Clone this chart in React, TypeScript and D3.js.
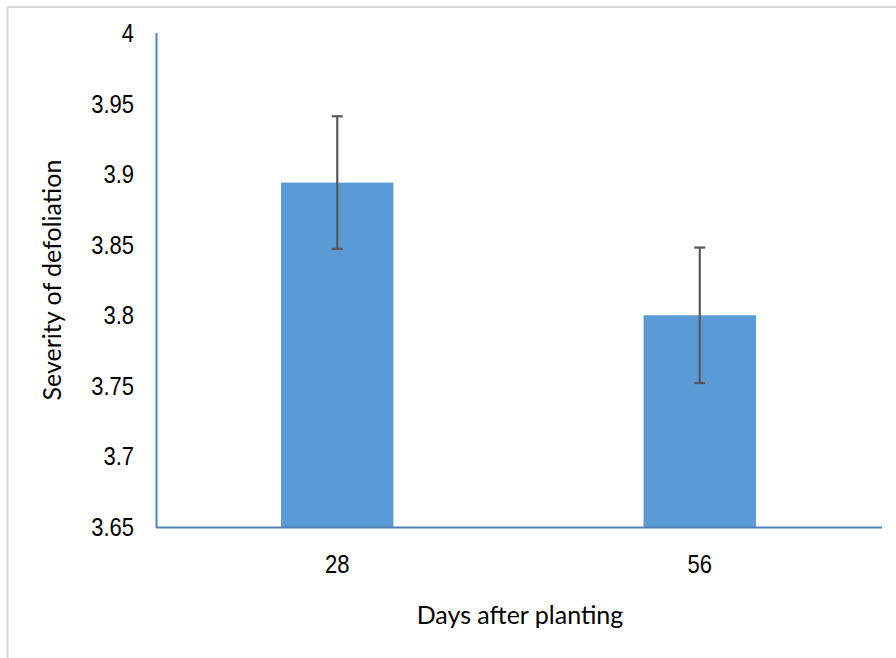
import React from "react";
import * as d3 from "d3";

const categories = ["28", "56"];
const means = [3.894, 3.8];
const errors = [0.047, 0.048];
const yTicks = [3.65, 3.7, 3.75, 3.8, 3.85, 3.9, 3.95, 4];

const W = 896;
const H = 658;
const margin = { left: 156, right: 15, top: 33, bottom: 131 };

export default function App() {
  const x = d3
    .scaleBand<string>()
    .domain(categories)
    .range([margin.left, W - margin.right])
    .paddingInner(0.69)
    .paddingOuter(0.345);
  const y = d3.scaleLinear().domain([3.65, 4]).range([H - margin.bottom, margin.top]);
  const tickFont = "'Liberation Sans', Arial, sans-serif";
  const titleFont = "Lato, 'Open Sans', sans-serif";
  const y0 = y(3.65);
  return (
    <svg
      width={W}
      height={H}
      style={{ position: "absolute", left: 0, top: 0, background: "#fff" }}
    >
      <line x1={7.5} y1={7} x2={W} y2={7} stroke="#d9d9d9" strokeWidth={2} />
      <line x1={7.5} y1={7} x2={7.5} y2={H} stroke="#d9d9d9" strokeWidth={2} />
      {categories.map((c, i) => (
        <rect
          key={c}
          x={x(c)}
          y={y(means[i])}
          width={x.bandwidth()}
          height={y0 - y(means[i])}
          fill="#5b9bd5"
        />
      ))}
      {categories.map((c, i) => {
        const cx = (x(c) as number) + x.bandwidth() / 2;
        const t = y(means[i] + errors[i]);
        const b = y(means[i] - errors[i]);
        return (
          <g key={"e" + c} stroke="#595959" strokeWidth={2.2}>
            <line x1={cx} x2={cx} y1={t} y2={b} />
            <line x1={cx - 5.5} x2={cx + 5.5} y1={t} y2={t} />
            <line x1={cx - 5.5} x2={cx + 5.5} y1={b} y2={b} />
          </g>
        );
      })}
      <line x1={156.5} x2={156.5} y1={margin.top} y2={y0 + 1} stroke="#4f81bd" strokeWidth={2} />
      <line x1={156} x2={882} y1={y0 + 0.5} y2={y0 + 0.5} stroke="#4f81bd" strokeWidth={2} />
      {yTicks.map((t) => (
        <text
          key={t}
          transform={`translate(134,${y(t) + 9}) scale(0.88,1)`}
          textAnchor="end"
          fontFamily={tickFont}
          fontSize={25}
          fill="#000"
        >
          {d3.format("")(t)}
        </text>
      ))}
      {categories.map((c) => (
        <text
          key={"x" + c}
          transform={`translate(${(x(c) as number) + x.bandwidth() / 2},573) scale(0.88,1)`}
          textAnchor="middle"
          fontFamily={tickFont}
          fontSize={25}
          fill="#000"
        >
          {c}
        </text>
      ))}
      <text
        x={520}
        y={624}
        textAnchor="middle"
        fontFamily={titleFont}
        fontSize={25}
        fill="#000"
      >
        Days after planting
      </text>
      <text
        transform={`translate(61,${280}) rotate(-90)`}
        textAnchor="middle"
        fontFamily={titleFont}
        fontSize={25}
        fill="#000"
      >
        Severity of defoliation
      </text>
    </svg>
  );
}
